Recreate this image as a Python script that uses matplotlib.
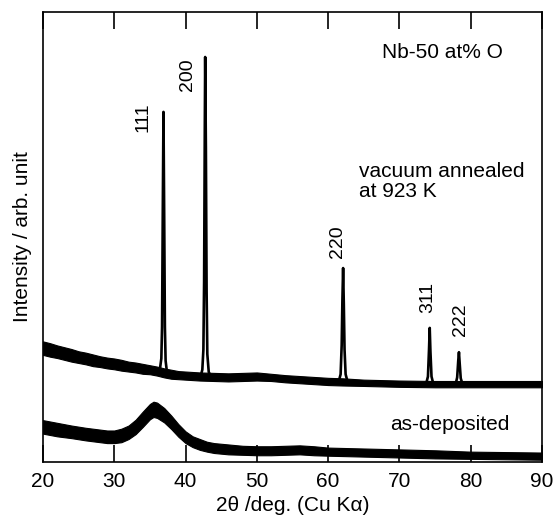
import matplotlib
matplotlib.use("Agg")
import matplotlib.pyplot as plt

plt.rcParams['font.family'] = ['Liberation Sans', 'DejaVu Sans']

# annealed sample: smooth background (centre of the noisy band) and band half width
ann_x = [20, 21, 22, 23, 24, 25, 26, 27, 28, 29, 30, 31, 32, 33, 34, 35, 36, 37, 38, 39, 40,
         42, 44, 46, 48, 50, 52, 54, 56, 58, 60, 62, 65, 70, 75, 80, 85, 90]
ann_y = [25.3, 24.9, 24.5, 24.1, 23.7, 23.3, 23.0, 22.6, 22.3, 22.0, 21.8, 21.5, 21.2, 21.0, 20.7, 20.5,
         20.2, 19.8, 19.5, 19.3, 19.2, 19.0, 18.9, 18.8, 18.9, 19.0, 18.8, 18.5, 18.3, 18.1, 17.9, 17.8,
         17.6, 17.4, 17.3, 17.3, 17.3, 17.3]
ann_w = [1.5, 1.5, 1.4, 1.4, 1.4, 1.3, 1.3, 1.3, 1.2, 1.2, 1.2, 1.2, 1.1, 1.1, 1.1, 1.0, 1.0, 1.0, 1.0,
         0.9, 0.9, 0.9, 0.9, 0.9, 0.9, 0.9, 0.8, 0.8, 0.8, 0.8, 0.8, 0.8, 0.7, 0.7, 0.7, 0.7, 0.7, 0.7]

# diffraction peaks of the annealed film (hkl, angle points, intensity points)
peak_hkl = ['111', '200', '220', '311', '222']
peak_x = [
    [36.1, 36.4, 36.6, 36.7, 36.8, 36.9, 37.0, 37.1, 37.2, 37.4, 37.7, 38.0],
    [42.15, 42.35, 42.5, 42.6, 42.7, 42.75, 42.85, 42.95, 43.05, 43.25, 43.55],
    [61.5, 61.75, 61.9, 62.0, 62.1, 62.2, 62.3, 62.45, 62.7],
    [73.75, 74.0, 74.15, 74.25, 74.35, 74.5, 74.75],
    [77.9, 78.1, 78.25, 78.35, 78.45, 78.6, 78.85],
]
peak_y = [
    [20.3, 20.6, 23.0, 30.0, 55.0, 77.8, 55.0, 30.0, 22.5, 19.8, 19.9, 19.4],
    [19.3, 20.5, 25.0, 40.0, 75.0, 90.0, 70.0, 38.0, 24.0, 20.0, 19.0],
    [18.0, 19.5, 26.0, 36.0, 43.1, 35.0, 25.0, 19.5, 18.0],
    [17.4, 19.0, 25.0, 29.8, 24.5, 19.0, 17.4],
    [17.4, 18.8, 22.5, 24.4, 22.0, 18.6, 17.3],
]
label_x = [34.0, 40.3, 61.3, 73.9, 78.5]
label_y = [76.7, 86.1, 49.0, 36.6, 31.6]

# as-deposited film: broad hump
dep_x = [20, 22, 24, 26, 28, 29, 30, 31, 32, 33, 34, 35, 35.5, 36, 37, 38, 39, 40, 41, 42, 43, 44,
         46, 48, 50, 52, 54, 56, 58, 60, 65, 70, 75, 80, 85, 90]
dep_y = [7.8, 7.2, 6.7, 6.2, 5.8, 5.6, 5.6, 5.9, 6.6, 7.8, 9.5, 11.2, 11.7, 11.5, 10.4, 8.8, 7.0, 5.5,
         4.5, 3.9, 3.4, 3.1, 2.8, 2.6, 2.5, 2.5, 2.6, 2.7, 2.5, 2.3, 2.1, 1.9, 1.7, 1.5, 1.4, 1.3]
dep_w = [1.5, 1.5, 1.4, 1.4, 1.4, 1.4, 1.4, 1.5, 1.5, 1.6, 1.7, 1.7, 1.7, 1.7, 1.6, 1.5, 1.4, 1.3,
         1.2, 1.2, 1.1, 1.1, 1.1, 1.0, 1.0, 1.0, 1.0, 1.0, 1.0, 0.9, 0.9, 0.9, 0.9, 0.8, 0.8, 0.8]

fig = plt.figure(figsize=(5.56, 5.23), dpi=100)
ax = fig.add_axes([43 / 556, 1 - 462 / 523, 499 / 556, 450 / 523])

# noisy bands
lo = [y - w for y, w in zip(ann_y, ann_w)]
hi = [y + w for y, w in zip(ann_y, ann_w)]
ax.fill_between(ann_x, lo, hi, color='black', lw=0.8)
lo = [y - w for y, w in zip(dep_y, dep_w)]
hi = [y + w for y, w in zip(dep_y, dep_w)]
ax.fill_between(dep_x, lo, hi, color='black', lw=0.8)

for px, py in zip(peak_x, peak_y):
    ax.plot(px, py, color='black', lw=1.9)

for hkl, lx, ly in zip(peak_hkl, label_x, label_y):
    ax.text(lx, ly, hkl, rotation=90, ha='center', va='center', fontsize=14)

ax.text(67.6, 90.9, 'Nb-50 at% O', ha='left', va='center', fontsize=15)
ax.text(64.3, 62.3, 'vacuum annealed\nat 923 K', ha='left', va='center', fontsize=15, linespacing=1.1)
ax.text(68.7, 8.4, 'as-deposited', ha='left', va='center', fontsize=15)

ax.set_xlim(20, 90)
ax.set_ylim(0, 100)
ax.set_xticks(range(20, 91, 10))
ax.set_yticks([])
ax.tick_params(axis='x', direction='in', length=12, width=1.2, top=True, labelsize=15, pad=7)
for s in ax.spines.values():
    s.set_linewidth(1.2)

ax.set_xlabel('2θ /deg. (Cu Kα)', fontsize=15, labelpad=4)
ax.set_ylabel('Intensity / arb. unit', fontsize=15, labelpad=8)

fig.savefig('out.png', dpi=100)
